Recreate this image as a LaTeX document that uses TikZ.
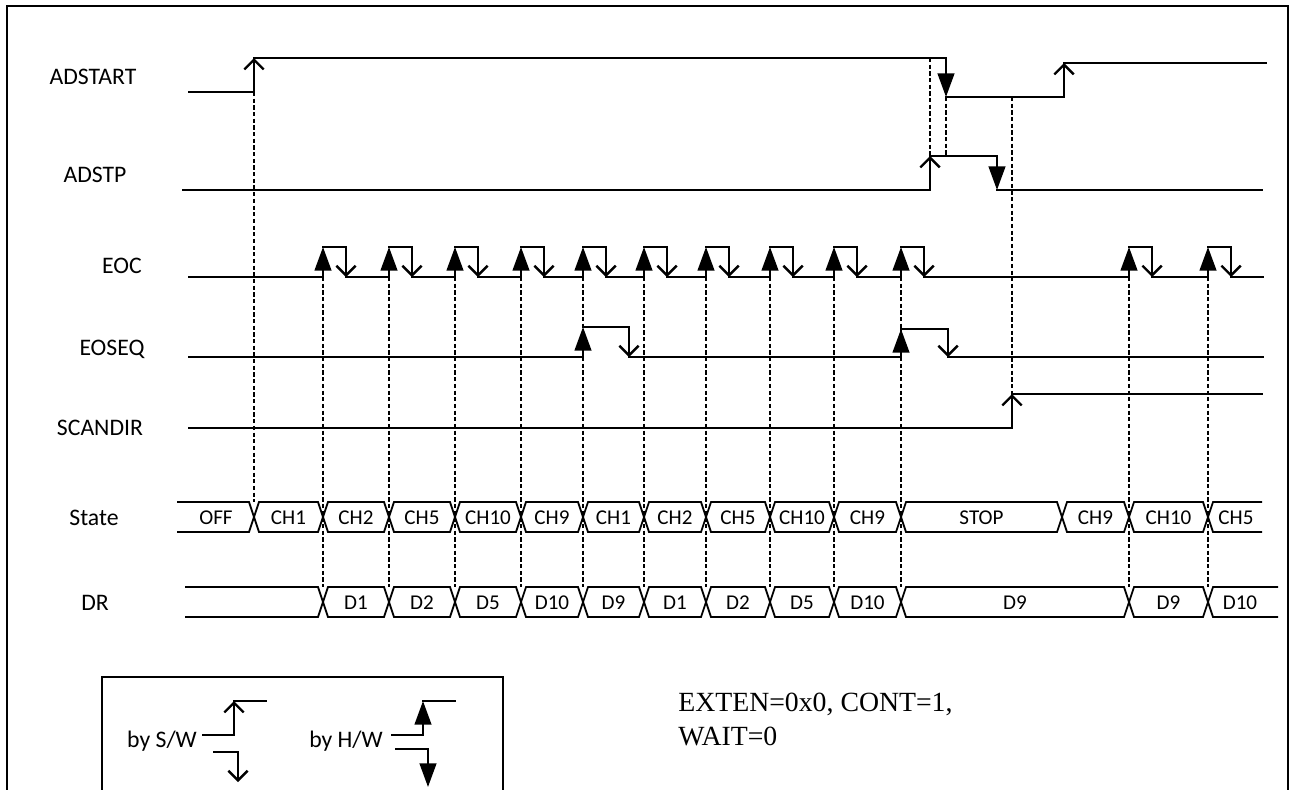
\documentclass[tikz,border=0pt]{standalone}
\usepackage{fontspec}
\setmainfont{Carlito}
\newfontfamily\cfgfont{Liberation Serif}
\usetikzlibrary{arrows.meta}

\begin{document}
\begin{tikzpicture}[
    x=0.02cm, y=-0.02cm,
    sig/.style={line width=1.35pt, line cap=rect},
    swedge/.style={sig, -{Straight Barb[length=5.5pt, width=11pt]}},
    hwedge/.style={sig, -{Triangle[length=13.5pt, width=9.5pt]}},
    guide/.style={line width=1.1pt, dash pattern=on 2.4pt off 1.4pt},
    bus/.style={line width=1pt},
    siglabel/.style={font=\fontsize{13.5}{16}\selectfont, anchor=base, inner sep=0pt},
    busval/.style={font=\fontsize{12}{14}\selectfont, anchor=base, inner sep=0pt},
    cfgtext/.style={font=\cfgfont\fontsize{15.8}{18}\selectfont, anchor=base west, inner sep=0pt},
]
\useasboundingbox (0,0) rectangle (1292,789);
\clip (0,0) rectangle (1292,789);

% Outer frame (open at the bottom)
\draw[line width=1.3pt] (7,800) -- (7,6) -- (1288,6) -- (1288,800);

% Signal names
\node[siglabel] (adstart) at (93,84) {ADSTART};
\node[siglabel] (adstp)   at (95,182) {ADSTP};
\node[siglabel] (eoc)     at (122,273) {EOC};
\node[siglabel] (eoseq)   at (112,355) {EOSEQ};
\node[siglabel] (scandir) at (100,435) {SCANDIR};
\node[siglabel] (state)   at (94,525) {State};
\node[siglabel] (dr)      at (95,610) {DR};

% Guide lines
\draw[guide] (254,92) -- (254,502);
\foreach \r in {323,389,455,521,583,644,706,770,834,901,1129,1208}
  \draw[guide] (\r,277) -- (\r,587);
\draw[guide] (930,58) -- (930,156);
\draw[guide] (946,97) -- (946,156);
\draw[guide] (1012,97) -- (1012,394);

% ADSTART
\draw[sig] (189,92) -- (254,92);
\draw[swedge] (254,92) -- (254,58);
\draw[sig] (254,58) -- (946,58);
\draw[hwedge] (946,58) -- (946,97);
\draw[sig] (946,97) -- (1064,97);
\draw[swedge] (1064,97) -- (1064,63);
\draw[sig] (1064,63) -- (1266,63);

% ADSTP
\draw[sig] (183,190) -- (930,190);
\draw[swedge] (930,190) -- (930,156);
\draw[sig] (930,156) -- (997,156);
\draw[hwedge] (997,156) -- (997,190);
\draw[sig] (997,190) -- (1262,190);

% EOC
\draw[sig] (189,277) -- (323,277);
\foreach \r/\n in {323/389, 389/455, 455/521, 521/583, 583/644, 644/706,
                   706/770, 770/834, 834/901, 901/1129, 1129/1208, 1208/1263} {
  \draw[hwedge] (\r,277) -- (\r,247);
  \draw[sig] (\r,247) -- ({\r+23},247);
  \draw[swedge] ({\r+23},247) -- ({\r+23},277);
  \draw[sig] ({\r+23},277) -- (\n,277);
}

% EOSEQ
\draw[sig] (189,357) -- (583,357);
\draw[hwedge] (583,357) -- (583,327);
\draw[sig] (583,327) -- (629,327);
\draw[swedge] (629,327) -- (629,357);
\draw[sig] (629,357) -- (901,357);
\draw[hwedge] (901,357) -- (901,329);
\draw[sig] (901,329) -- (948,329);
\draw[swedge] (948,329) -- (948,357);
\draw[sig] (948,357) -- (1263,357);

% SCANDIR
\draw[sig] (189,428) -- (1012,428);
\draw[swedge] (1012,428) -- (1012,394);
\draw[sig] (1012,394) -- (1262,394);

% State bus
\draw[bus] (177,502) -- (249,502) -- (254,517) -- (249,532) -- (177,532);
\node[busval] (st0) at (216,524.5) {OFF};
\foreach \a/\b/\t [count=\i] in {254/323/CH1, 323/389/CH2, 389/455/CH5, 455/521/CH10,
    521/583/CH9, 583/644/CH1, 644/706/CH2, 706/770/CH5, 770/834/CH10,
    834/901/CH9, 901/1062/STOP, 1062/1129/CH9, 1129/1208/CH10} {
  \draw[bus] (\a,517) -- ({\a+5},502) -- ({\b-5},502) -- (\b,517)
             -- ({\b-5},532) -- ({\a+5},532) -- cycle;
  \node[busval] (st\i) at ({(\a+\b)/2},524.5) {\t};
}
\draw[bus] (1262,502) -- (1213,502) -- (1208,517) -- (1213,532) -- (1262,532);
\node[busval] (st14) at (1236,524.5) {CH5};

% DR bus
\draw[bus] (185,587) -- (318,587) -- (323,602) -- (318,617) -- (185,617);
\foreach \a/\b/\t [count=\i] in {323/389/D1, 389/455/D2, 455/521/D5, 521/583/D10,
    583/644/D9, 644/706/D1, 706/770/D2, 770/834/D5, 834/901/D10,
    901/1129/D9, 1129/1208/D9} {
  \draw[bus] (\a,602) -- ({\a+5},587) -- ({\b-5},587) -- (\b,602)
             -- ({\b-5},617) -- ({\a+5},617) -- cycle;
  \node[busval] (dr\i) at ({(\a+\b)/2},609.5) {\t};
}
\draw[bus] (1278,587) -- (1213,587) -- (1208,602) -- (1213,617) -- (1278,617);
\node[busval] (dr12) at (1240,609.5) {D10};

% Legend
\draw[line width=1.1pt] (102,800) -- (102,677) -- (503,677) -- (503,800);
\node[siglabel] (bysw) at (162,747) {by S/W};
\draw[sig] (203,735) -- (234,735);
\draw[swedge] (234,735) -- (234,701);
\draw[sig] (234,701) -- (266,701);
\draw[sig] (214,752) -- (238,752);
\draw[swedge] (238,752) -- (238,782);
\node[siglabel] (byhw) at (346,747) {by H/W};
\draw[sig] (392,735) -- (423,735);
\draw[hwedge] (423,735) -- (423,701);
\draw[sig] (423,701) -- (455,701);
\draw[sig] (396,749) -- (428,749);
\draw[hwedge] (428,749) -- (428,787);

% Settings
\node[cfgtext] (cfgA) at (678,711) {EXTEN=0x0, CONT=1,};
\node[cfgtext] (cfgB) at (678,745) {WAIT=0};

\end{tikzpicture}
\end{document}
